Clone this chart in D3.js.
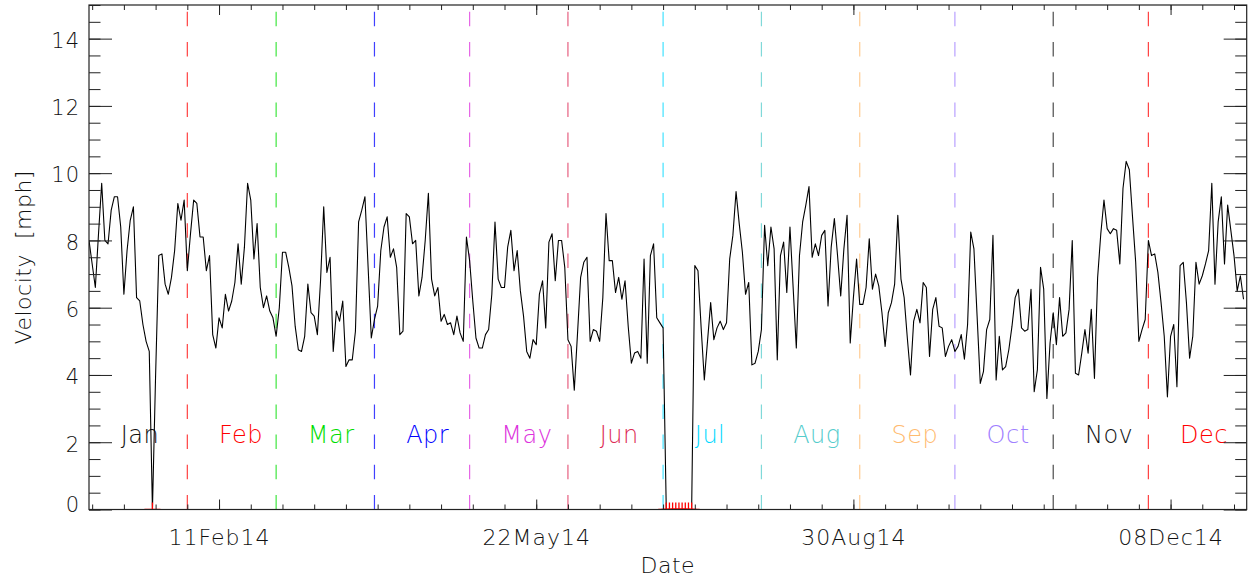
<!DOCTYPE html>
<html>
<head>
<meta charset="utf-8">
<script src="https://cdn.jsdelivr.net/npm/d3@7"></script>
<style>
  body { margin: 0; background: #fff; }
  svg text { font-family: "DejaVu Sans", sans-serif; font-weight: 200; fill: #111; }
</style>
</head>
<body>
<div id="chart"></div>
<script>
// daily mean velocity, one value per day from startDate
const startDate = "2014-01-01";
const endDate = "2015-01-01";
const velocity = [
  8.0, 7.3, 6.6, 8.2, 9.7, 8.0, 7.9, 8.9, 9.3, 9.3,
  8.4, 6.4, 7.7, 8.6, 9.0, 6.3, 6.2, 5.5, 5.0, 4.7,
  0, 4.0, 7.55, 7.6, 6.7, 6.4, 6.9, 7.7, 9.1, 8.6,
  9.2, 7.1, 8.2, 9.2, 9.1, 8.1, 8.1, 7.1, 7.55, 5.2,
  4.8, 5.7, 5.4, 6.4, 5.9, 6.2, 6.75, 7.9, 6.7, 7.8,
  9.7, 9.2, 7.45, 8.5, 6.6, 6.0, 6.35, 5.9, 5.7, 5.15,
  6.0, 7.65, 7.65, 7.2, 6.65, 5.45, 4.75, 4.7, 5.15, 6.7,
  5.85, 5.75, 5.2, 6.8, 9.0, 7.05, 7.5, 4.7, 5.9, 5.6,
  6.2, 4.25, 4.45, 4.45, 5.3, 8.55, 8.9, 9.3, 7.2, 5.1,
  5.65, 6.05, 7.7, 8.4, 8.7, 7.5, 7.75, 7.2, 5.2, 5.3,
  8.8, 8.7, 7.9, 8.0, 6.35, 6.9, 8.0, 9.4, 6.85, 6.35,
  6.6, 5.6, 5.8, 5.5, 5.55, 5.2, 5.75, 5.25, 5.0, 8.1,
  7.4, 6.2, 5.1, 4.8, 4.8, 5.2, 5.35, 6.4, 8.55, 6.85,
  6.6, 6.6, 7.8, 8.3, 7.1, 7.7, 6.5, 5.75, 4.7, 4.5,
  5.05, 4.9, 6.4, 6.8, 5.4, 7.95, 8.2, 6.8, 8.0, 8.0,
  7.2, 5.05, 4.85, 3.55, 5.2, 6.9, 7.35, 7.5, 5.0, 5.35,
  5.3, 5.0, 6.3, 8.8, 7.4, 7.4, 6.45, 6.9, 6.25, 6.8,
  5.45, 4.35, 4.65, 4.7, 4.5, 7.45, 4.35, 7.55, 7.9, 5.7,
  5.55, 5.4, 0, 0, 0, 0, 0, 0, 0, 0,
  0, 7.25, 7.1, 5.4, 3.85, 5.0, 6.15, 5.05, 5.4, 5.6,
  5.35, 5.55, 7.45, 8.15, 9.45, 8.5, 7.65, 6.4, 6.75, 4.3,
  4.35, 4.7, 5.35, 8.45, 7.25, 8.4, 7.75, 4.45, 7.55, 7.95,
  6.45, 8.4, 6.6, 4.8, 7.55, 8.55, 9.05, 9.6, 7.5, 7.9,
  7.55, 8.15, 8.3, 6.05, 7.8, 8.65, 7.55, 6.35, 7.75, 8.75,
  4.95, 6.3, 7.45, 6.1, 6.1, 6.6, 8.05, 6.55, 7.0, 6.65,
  5.85, 4.85, 5.85, 6.15, 6.7, 8.75, 6.85, 6.3, 5.1, 4.0,
  5.6, 5.95, 5.55, 6.75, 6.6, 4.55, 5.95, 6.3, 5.45, 5.4,
  4.55, 4.85, 5.05, 4.7, 4.85, 5.2, 4.47, 5.5, 8.25, 7.75,
  5.75, 3.75, 4.1, 5.35, 5.65, 8.15, 3.85, 5.15, 4.15, 4.25,
  4.75, 5.45, 6.3, 6.55, 5.4, 5.3, 5.35, 6.55, 3.5, 4.15,
  7.2, 6.55, 3.3, 4.95, 5.85, 4.9, 6.3, 5.15, 5.25, 5.95,
  8.0, 4.05, 4.0, 4.65, 5.35, 4.65, 5.95, 3.9, 6.9, 8.2,
  9.2, 8.35, 8.2, 8.35, 8.3, 7.3, 9.55, 10.35, 10.1, 8.7,
  7.35, 5.0, 5.35, 5.65, 8.0, 7.55, 7.6, 7.05, 6.15, 5.15,
  3.35, 5.15, 5.5, 3.65, 7.25, 7.35, 6.15, 4.5, 5.15, 7.35,
  6.7, 6.95, 7.3, 7.7, 9.7, 6.7, 8.55, 9.3, 7.3, 9.05,
  8.3, 7.55, 6.5, 6.95, 6.25
];

const monthNames = ["Jan", "Feb", "Mar", "Apr", "May", "Jun", "Jul", "Aug", "Sep", "Oct", "Nov", "Dec"];
const monthStarts = ["2014-01-01", "2014-02-01", "2014-03-01", "2014-04-01", "2014-05-01", "2014-06-01",
  "2014-07-01", "2014-08-01", "2014-09-01", "2014-10-01", "2014-11-01", "2014-12-01"];
const monthColors = ["#111111", "#ff0000", "#00dd00", "#0000ff", "#dd33dd", "#dd2a55",
  "#00d8ff", "#55cccc", "#ffbb70", "#a080ff", "#111111", "#ff0000"];
const majorTickDates = ["2014-02-11", "2014-05-22", "2014-08-30", "2014-12-08"];
const yTickValues = [0, 2, 4, 6, 8, 10, 12, 14];

const parse = d3.utcParse("%Y-%m-%d");
const t0 = parse(startDate);
const data = velocity.map((v, i) => ({ date: d3.utcDay.offset(t0, i), value: v }));
const zeroDays = data.filter((d) => d.value === 0);

const margin = { top: 5, right: 6.3, bottom: 73.5, left: 89 };
const width = 1253 - margin.left - margin.right;
const height = 583 - margin.top - margin.bottom;

const svg = d3
  .select("#chart")
  .append("svg")
  .attr("width", 1253)
  .attr("height", 583);

const g = svg.append("g").attr("transform", `translate(${margin.left},${margin.top})`);

const x = d3.scaleUtc().domain([t0, parse(endDate)]).range([0, width]);
const y = d3.scaleLinear().domain([0, 15]).range([height, 0]);

g.append("clipPath")
  .attr("id", "plotclip")
  .append("rect")
  .attr("width", width)
  .attr("height", height);

// month separators
g.selectAll(".month-line")
  .data(monthStarts.slice(1))
  .join("line")
  .attr("x1", (d) => x(parse(d)))
  .attr("x2", (d) => x(parse(d)))
  .attr("y1", y(0))
  .attr("y2", y(15))
  .attr("stroke", (d, i) => monthColors[i + 1])
  .attr("stroke-opacity", 0.75)
  .attr("stroke-width", 1.2)
  .attr("stroke-dasharray", "14.5,15.7");

// month names, 10 days after start of month
g.selectAll(".month-label")
  .data(monthStarts)
  .join("text")
  .attr("x", (d) => x(d3.utcDay.offset(parse(d), 10)))
  .attr("y", 438)
  .attr("font-size", 24)
  .style("fill", (d, i) => monthColors[i])
  .style("letter-spacing", "0.5px")
  .text((d, i) => monthNames[i]);

const line = d3
  .line()
  .x((d) => x(d.date))
  .y((d) => y(d.value));

g.append("path")
  .datum(data)
  .attr("clip-path", "url(#plotclip)")
  .attr("fill", "none")
  .attr("stroke", "#000")
  .attr("stroke-width", 1.1)
  .attr("stroke-linejoin", "round")
  .attr("d", line);

// missing days marked with a plus at zero
g.append("g")
  .attr("clip-path", "url(#plotclip)")
  .selectAll("path")
  .data(zeroDays)
  .join("path")
  .attr("d", (d) => `M${x(d.date) - 8},${y(0)}H${x(d.date) + 8}M${x(d.date)},${y(0) - 7}V${y(0) + 7}`)
  .attr("stroke", "#ff0000")
  .attr("stroke-width", 1.3)
  .attr("fill", "none");

// axes
const minorX = d3.range(1, 365, 10).map((i) => d3.utcDay.offset(t0, i));
const majorX = majorTickDates.map(parse);
const minorY = d3.range(0, 15.01, 0.5);

const styleAxis = (sel) => {
  sel.select(".domain").remove();
  sel.selectAll("line").attr("stroke", "#222");
};

g.append("g")
  .attr("transform", `translate(0,${height})`)
  .call(d3.axisBottom(x).tickValues(minorX).tickSize(-5).tickFormat(""))
  .call(styleAxis);
const xMajor = g
  .append("g")
  .attr("transform", `translate(0,${height})`)
  .call(d3.axisBottom(x).tickValues(majorX).tickSize(-10).tickFormat(d3.utcFormat("%d%b%y")))
  .call(styleAxis);
xMajor
  .selectAll("text")
  .attr("y", 35.5)
  .attr("dy", 0)
  .attr("font-size", 22)
  .style("letter-spacing", "1px");

g.append("g")
  .call(d3.axisTop(x).tickValues(minorX).tickSize(-5).tickFormat(""))
  .call(styleAxis);
g.append("g")
  .call(d3.axisTop(x).tickValues(majorX).tickSize(-10).tickFormat(""))
  .call(styleAxis);

g.append("g")
  .call(d3.axisLeft(y).tickValues(minorY).tickSize(-11.5).tickFormat(""))
  .call(styleAxis);
const yMajor = g
  .append("g")
  .call(d3.axisLeft(y).tickValues(yTickValues).tickSize(-23).tickPadding(9).tickFormat(d3.format("d")))
  .call(styleAxis);
yMajor
  .selectAll("text")
  .attr("x", -9)
  .attr("dy", (d) => (d === 0 ? "0.1em" : "0.42em"))
  .attr("font-size", 21)
  .style("letter-spacing", "1px");

g.append("g")
  .attr("transform", `translate(${width},0)`)
  .call(d3.axisRight(y).tickValues(minorY).tickSize(-11.5).tickFormat(""))
  .call(styleAxis);
g.append("g")
  .attr("transform", `translate(${width},0)`)
  .call(d3.axisRight(y).tickValues(yTickValues).tickSize(-23).tickFormat(""))
  .call(styleAxis);

g.append("rect")
  .attr("width", width)
  .attr("height", height)
  .attr("fill", "none")
  .attr("stroke", "#222")
  .attr("stroke-width", 1.2);

// axis titles
svg.append("text")
  .attr("x", margin.left + width / 2)
  .attr("y", 573)
  .attr("text-anchor", "middle")
  .attr("font-size", 22)
  .style("letter-spacing", "0.5px")
  .text("Date");

svg.append("text")
  .attr("transform", `translate(31,${margin.top + height / 2}) rotate(-90)`)
  .attr("text-anchor", "middle")
  .attr("font-size", 22)
  .style("letter-spacing", "0.5px")
  .attr("xml:space", "preserve")
  .text("Velocity  [mph]");
</script>
</body>
</html>
